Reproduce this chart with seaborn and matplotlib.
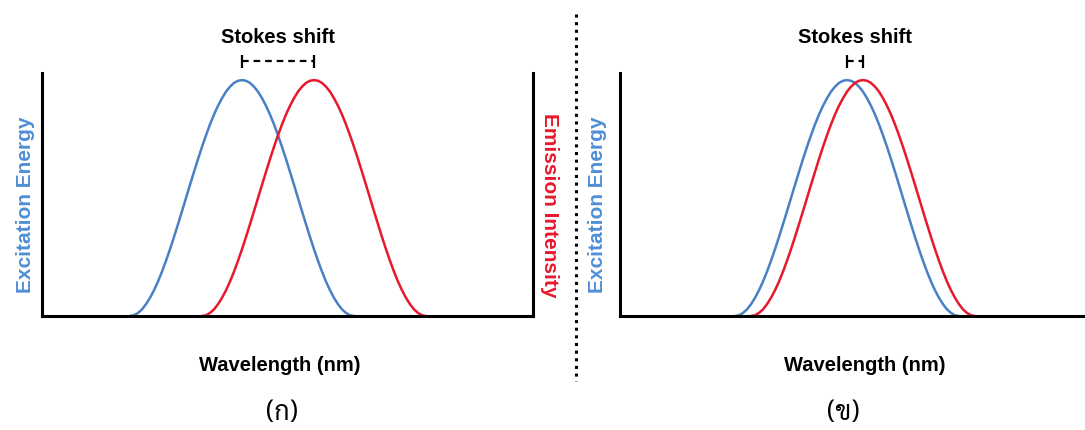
import matplotlib
matplotlib.use('Agg')
import matplotlib.pyplot as plt
import seaborn as sns
import pandas as pd
import os
from matplotlib import font_manager
from matplotlib.ft2font import FT2Font

# 스펙트럼 값 (그림에서 읽은 값, 파장 단위는 임의)
exc_wl_a = [388, 392, 396, 400, 404, 408, 412, 416, 420, 424, 428, 432, 436, 440, 444,
            448, 452, 456, 460, 464, 468, 472, 476, 480, 484, 488, 492, 496, 500,
            504, 508, 512, 516, 520, 524, 528, 532, 536, 540, 544, 548, 552, 556,
            560, 564, 568, 572, 576, 580, 584, 588, 592, 596, 600, 604, 608, 612]
emi_wl_a = [460, 464, 468, 472, 476, 480, 484, 488, 492, 496, 500, 504, 508, 512, 516,
            520, 524, 528, 532, 536, 540, 544, 548, 552, 556, 560, 564, 568, 572,
            576, 580, 584, 588, 592, 596, 600, 604, 608, 612, 616, 620, 624, 628,
            632, 636, 640, 644, 648, 652, 656, 660, 664, 668, 672, 676, 680, 684]
exc_wl_b = [415, 419, 423, 427, 431, 435, 439, 443, 447, 451, 455, 459, 463, 467, 471,
            475, 479, 483, 487, 491, 495, 499, 503, 507, 511, 515, 519, 523, 527,
            531, 535, 539, 543, 547, 551, 555, 559, 563, 567, 571, 575, 579, 583,
            587, 591, 595, 599, 603, 607, 611, 615, 619, 623, 627, 631, 635, 639]
emi_wl_b = [431, 435, 439, 443, 447, 451, 455, 459, 463, 467, 471, 475, 479, 483, 487,
            491, 495, 499, 503, 507, 511, 515, 519, 523, 527, 531, 535, 539, 543,
            547, 551, 555, 559, 563, 567, 571, 575, 579, 583, 587, 591, 595, 599,
            603, 607, 611, 615, 619, 623, 627, 631, 635, 639, 643, 647, 651, 655]
intensity = [0.000, 0.003, 0.013, 0.028, 0.050, 0.077, 0.109, 0.146, 0.188, 0.234,
             0.283, 0.335, 0.389, 0.444, 0.500, 0.556, 0.611, 0.665, 0.717, 0.766,
             0.812, 0.854, 0.891, 0.923, 0.951, 0.972, 0.988, 0.997, 1.000,
             0.997, 0.988, 0.972, 0.951, 0.923, 0.891, 0.854, 0.812, 0.766, 0.717,
             0.665, 0.611, 0.556, 0.500, 0.444, 0.389, 0.335, 0.283, 0.234, 0.188,
             0.146, 0.109, 0.077, 0.050, 0.028, 0.013, 0.003, 0.000]

captions = ['(ก)', '(ข)']
BLUE = '#4a80c6'
RED = '#e8192c'
LABEL_BLUE = '#4f8fd6'

sns.set_theme(style='white')
BOLD = ['Liberation Sans', 'DejaVu Sans']
plt.rcParams['font.family'] = BOLD
plt.rcParams['text.color'] = 'black'


def find_thai_font(size):
    # 태국 문자가 있는 폰트 찾기 (Sarabun 우선)
    found = []
    for path in font_manager.findSystemFonts():
        try:
            cmap = FT2Font(path).get_charmap()
        except Exception:
            continue
        if ord('ก') in cmap and ord('ข') in cmap and 'unifont' not in path.lower():
            found.append(path)
    prefer = ['Sarabun-Regular', 'IBMPlexSansThai-Regular', 'NotoSansThai-Regular',
              'Kanit-Light', '-Regular']
    for key in prefer:
        for p in found:
            if key in os.path.basename(p):
                return font_manager.FontProperties(fname=p, size=size)
    if found:
        return font_manager.FontProperties(fname=found[0], size=size)
    return font_manager.FontProperties(family='DejaVu Sans', size=size)


W, H = 1085, 430
fig = plt.figure(figsize=(W / 100, H / 100), dpi=100)
fig.patch.set_facecolor('white')

ax_a = fig.add_axes([42 / W, (H - 316) / H, (533 - 42) / W, (316 - 73) / H])
ax_b = fig.add_axes([620 / W, (H - 316) / H, (W - 620) / W, (316 - 73) / H])

panels = [
    (ax_a, exc_wl_a, emi_wl_a, (300, 791), True),
    (ax_b, exc_wl_b, emi_wl_b, (300, 765), False),
]

for ax, exc_wl, emi_wl, xlim, right_spine in panels:
    df_exc = pd.DataFrame({'wl': exc_wl, 'val': intensity})
    df_emi = pd.DataFrame({'wl': emi_wl, 'val': intensity})
    sns.lineplot(data=df_exc, x='wl', y='val', ax=ax, color=BLUE, lw=1.8)
    sns.lineplot(data=df_emi, x='wl', y='val', ax=ax, color=RED, lw=1.8)
    ax.set_xlim(*xlim)
    ax.set_ylim(0, 1.03)
    ax.set_xticks([])
    ax.set_yticks([])
    ax.set_xlabel('')
    ax.set_ylabel('')
    ax.set_facecolor('none')
    for side in ['left', 'bottom', 'right']:
        ax.spines[side].set_linewidth(2.2)
        ax.spines[side].set_color('black')
    ax.spines['top'].set_visible(False)
    ax.spines['right'].set_visible(right_spine)

    # Stokes shift 표시
    p1 = exc_wl[intensity.index(max(intensity))]
    p2 = emi_wl[intensity.index(max(intensity))]
    ax.plot([p1, p1], [1.051, 1.106], color='black', lw=1.6, clip_on=False, solid_capstyle='butt')
    ax.plot([p2, p2], [1.051, 1.106], color='black', lw=1.6, clip_on=False, solid_capstyle='butt')
    ax.plot([p1, p2], [1.079, 1.079], color='black', lw=1.6, ls=(0, (3, 2.2)), clip_on=False,
            dash_capstyle='butt')
    ax.text((p1 + p2) / 2, 1.18, 'Stokes shift', ha='center', va='center',
            fontsize=14.5, fontweight='bold', color='black', clip_on=False)

ax_a.text(-0.033, 0.457, 'Excitation Energy', transform=ax_a.transAxes, rotation=90,
          ha='center', va='center', fontsize=15, fontweight='bold', color=LABEL_BLUE)
ax_a.text(1.033, 0.457, 'Emission Intensity', transform=ax_a.transAxes, rotation=-90,
          ha='center', va='center', fontsize=15, fontweight='bold', color=RED)
ax_b.text(-0.049, 0.457, 'Excitation Energy', transform=ax_b.transAxes, rotation=90,
          ha='center', va='center', fontsize=15, fontweight='bold', color=LABEL_BLUE)

ax_a.text(0.485, -0.202, 'Wavelength (nm)', transform=ax_a.transAxes, ha='center', va='center',
          fontsize=14.5, fontweight='bold', color='black')
ax_b.text(0.527, -0.202, 'Wavelength (nm)', transform=ax_b.transAxes, ha='center', va='center',
          fontsize=14.5, fontweight='bold', color='black')

# 가운데 점선
fig.add_artist(plt.Line2D([575.5 / W, 575.5 / W], [1 - 14 / H, 1 - 381 / H], color='black',
                          lw=2.2, ls=(0, (1, 1.5)), transform=fig.transFigure))

thai = find_thai_font(19)
fig.text(282 / W, 1 - 413 / H, captions[0], ha='center', va='center', fontproperties=thai,
         color='black')
fig.text(843 / W, 1 - 413 / H, captions[1], ha='center', va='center', fontproperties=thai,
         color='black')

fig.savefig('out.png', dpi=100, facecolor='white')
